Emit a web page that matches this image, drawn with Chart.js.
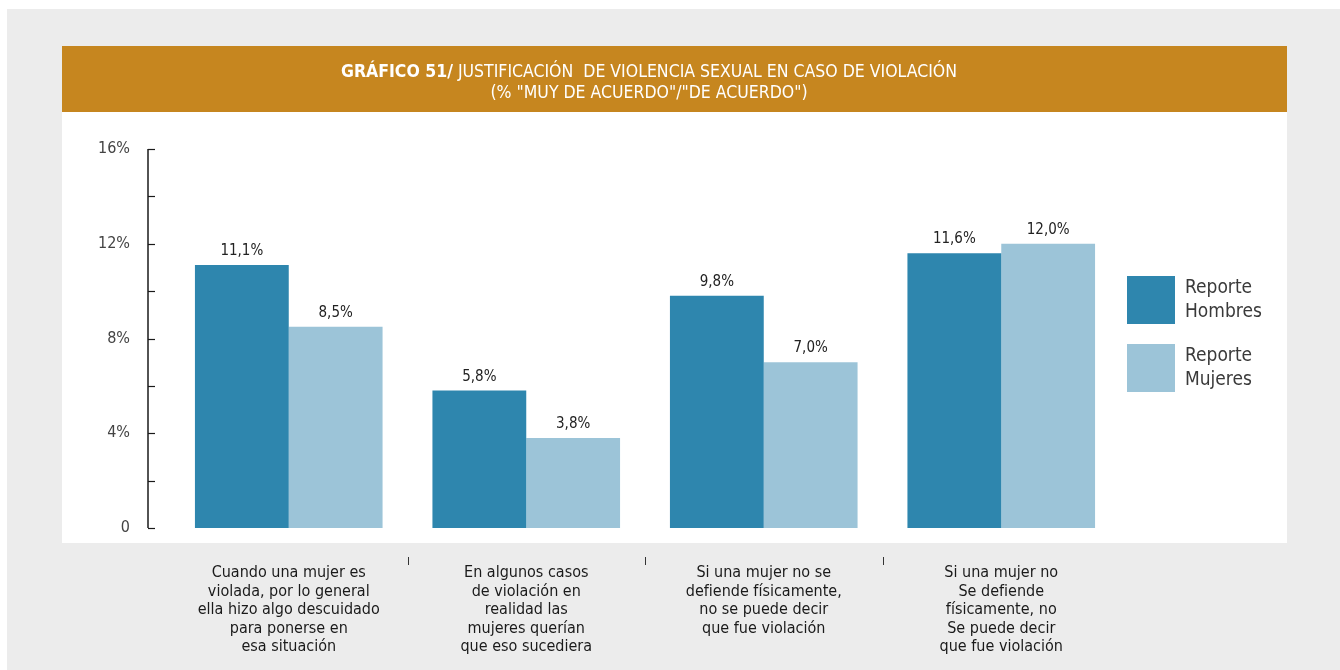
<!DOCTYPE html>
<html lang="es">
<head>
<meta charset="utf-8">
<title>Gráfico 51 — Justificación de violencia sexual</title>
<script src="https://cdn.jsdelivr.net/npm/chart.js@4.4.1/dist/chart.umd.min.js"></script>
<style>
  html, body { margin: 0; padding: 0; background: #fff; }
  #wrap { width: 1340px; height: 670px; }
</style>
</head>
<body>
<div id="wrap"><canvas id="chart" width="1340" height="670"></canvas></div>
<script>
// ── Data ─────────────────────────────────────────────────────
const categories = [
  ['Cuando una mujer es', 'violada, por lo general', 'ella hizo algo descuidado', 'para ponerse en', 'esa situación'],
  ['En algunos casos', 'de violación en', 'realidad las', 'mujeres querían', 'que eso sucediera'],
  ['Si una mujer no se', 'defiende físicamente,', 'no se puede decir', 'que fue violación'],
  ['Si una mujer no', 'Se defiende', 'físicamente, no', 'Se puede decir', 'que fue violación'],
];
const seriesNames = ['Reporte Hombres', 'Reporte Mujeres'];
const hombres = [11.1, 5.8, 9.8, 11.6];
const mujeres = [8.5, 3.8, 7.0, 12.0];
const yMax = 16;
const yStep = 2;
const titleBold = 'GRÁFICO 51/';
const titleRest = ' JUSTIFICACIÓN  DE VIOLENCIA SEXUAL EN CASO DE VIOLACIÓN';
const subtitle = '(% "MUY DE ACUERDO"/"DE ACUERDO")';

// ── Look ─────────────────────────────────────────────────────
const COLORS = ['#2e86ae', '#9cc4d8'];
const GOLD   = '#c6861f';
const GREY   = '#ececec';
const FONT   = "'Liberation Sans Narrow', 'DejaVu Sans Condensed', 'Liberation Sans', sans-serif";

const fmt = v => v.toFixed(1).replace('.', ',') + '%';

// Page frame, white panel and the gold title band
const backdrop = {
  id: 'backdrop',
  beforeDraw(chart) {
    const { ctx, width, height } = chart;
    ctx.save();
    ctx.fillStyle = '#fff';
    ctx.fillRect(0, 0, width, height);
    ctx.fillStyle = GREY;
    ctx.fillRect(7, 9, width - 7, height - 9);
    ctx.fillStyle = '#fff';
    ctx.fillRect(62, 112, 1225, 431);
    ctx.fillStyle = GOLD;
    ctx.fillRect(62, 46, 1225, 66);

    // title: bold prefix + regular rest, centred as one line
    ctx.fillStyle = '#fff';
    ctx.textBaseline = 'alphabetic';
    const bold = `bold 17.5px ${FONT}`;
    const reg  = `17.5px ${FONT}`;
    ctx.font = bold;
    const wb = ctx.measureText(titleBold).width;
    ctx.font = reg;
    const wr = ctx.measureText(titleRest).width;
    const x = 649 - (wb + wr) / 2;
    ctx.textAlign = 'left';
    ctx.font = bold;
    ctx.fillText(titleBold, x, 77);
    ctx.font = reg;
    ctx.fillText(titleRest, x + wb, 77);
    ctx.textAlign = 'center';
    ctx.fillText(subtitle, 649, 98);
    ctx.restore();
  },
};

// Axis line with inner ticks, value labels, category separators, legend
const overlay = {
  id: 'overlay',
  afterDraw(chart) {
    const { ctx, chartArea } = chart;
    const y = chart.scales.y;
    const x = chart.scales.x;
    ctx.save();

    // vertical axis, set a little left of the plot
    const ax = chartArea.left - 22;
    ctx.strokeStyle = '#1a1a1a';
    ctx.lineWidth = 1.5;
    ctx.beginPath();
    ctx.moveTo(ax, y.getPixelForValue(yMax));
    ctx.lineTo(ax, y.getPixelForValue(0));
    ctx.stroke();
    ctx.lineWidth = 1.2;
    y.ticks.forEach(t => {
      const py = Math.round(y.getPixelForValue(t.value)) + 0.5;
      ctx.beginPath();
      ctx.moveTo(ax, py);
      ctx.lineTo(ax + 7, py);
      ctx.stroke();
    });

    // short separators between the category captions
    ctx.strokeStyle = '#333';
    ctx.lineWidth = 1;
    for (let i = 0; i < categories.length - 1; i++) {
      const px = Math.round((x.getPixelForTick(i) + x.getPixelForTick(i + 1)) / 2) + 0.5;
      ctx.beginPath();
      ctx.moveTo(px, 557);
      ctx.lineTo(px, 565);
      ctx.stroke();
    }

    // values above each bar
    ctx.fillStyle = '#222';
    ctx.font = `15px ${FONT}`;
    ctx.textAlign = 'center';
    ctx.textBaseline = 'alphabetic';
    chart.data.datasets.forEach((ds, di) => {
      chart.getDatasetMeta(di).data.forEach((bar, i) => {
        ctx.fillText(fmt(ds.data[i]), bar.x, bar.y - 10);
      });
    });

    // legend on the right, two-line names
    const lx = chartArea.right + 7;
    ctx.textAlign = 'left';
    ctx.textBaseline = 'middle';
    ctx.font = `19px ${FONT}`;
    chart.data.datasets.forEach((ds, di) => {
      const top = 276 + di * 68;
      ctx.fillStyle = ds.backgroundColor;
      ctx.fillRect(lx, top, 48, 48);
      ctx.fillStyle = '#3a3a3a';
      ds.label.split(' ').forEach((line, li) => {
        ctx.fillText(line, lx + 58, top + 12 + li * 24);
      });
    });
    ctx.restore();
  },
};

new Chart(document.getElementById('chart'), {
  type: 'bar',
  data: {
    labels: categories,
    datasets: [
      { label: seriesNames[0], data: hombres, backgroundColor: COLORS[0] },
      { label: seriesNames[1], data: mujeres, backgroundColor: COLORS[1] },
    ],
  },
  options: {
    responsive: false,
    animation: false,
    devicePixelRatio: 1,
    layout: { padding: { top: 149, right: 220, left: 0, bottom: 0 } },
    datasets: { bar: { categoryPercentage: 0.79, barPercentage: 1.0, borderWidth: 0 } },
    plugins: {
      legend: { display: false },
      tooltip: { enabled: false },
      title: { display: false },
    },
    scales: {
      x: {
        grid: { display: false, drawTicks: false },
        border: { display: false },
        ticks: {
          padding: 36,
          color: '#1a1a1a',
          maxRotation: 0,
          autoSkip: false,
          font: { family: FONT, size: 16, lineHeight: 1.15 },
        },
        afterFit: s => { s.height = 670 - 528; },
      },
      y: {
        min: 0,
        max: yMax,
        grid: { display: false, drawTicks: false },
        border: { display: false },
        ticks: {
          stepSize: yStep,
          padding: 40,
          color: '#444',
          font: { family: FONT, size: 16 },
          callback: v => (v % 4 !== 0 ? '' : v === 0 ? '0' : v + '%'),
        },
        afterFit: s => { s.width = 170; },
      },
    },
  },
  plugins: [backdrop, overlay],
});
</script>
</body>
</html>
